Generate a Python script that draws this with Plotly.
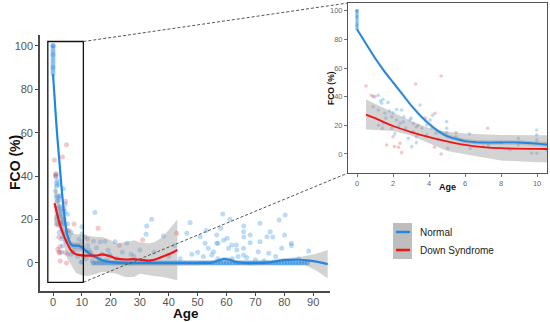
import plotly.graph_objects as go

# ---------------- data ----------------
normal_age = [0, 0, 0, 0, 0, 0, 0, 0, 0, 0, 0, 0, 0, 0, 0, 0, 0, 0,
              0.9, 1.0, 1.18, 1.3, 1.37, 1.45, 1.72, 1.18, 1.55, 2.0, 1.93, 2.2, 2.4, 2.57, 2.2, 2.48,
              1.93, 1.46, 2.94, 3.13, 3.13, 2.85, 3.3, 3.6, 3.5, 3.87, 4.06, 4.15, 4.39, 3.87, 3.3, 3.04,
              4.98, 4.98, 4.98, 5.04, 6.24, 6.28, 9.98, 9.98, 9.98, 9.98, 9.98, 9.7, 8.96, 8.96,
              1.6, 2.7, 3.4, 2.6, 4.5, 5.5, 7.0, 8.0, 6.5, 4.2, 1.2, 2.1, 2.3, 3.0, 1.8, 7.3, 8.5,
              10.5, 11, 11.5, 12, 12.5, 13, 13.5, 14, 14.5, 15, 16, 16.3, 17, 18, 18.5, 19, 19.5, 20,
              21.5, 22, 24, 25.5, 27, 28, 30, 32.4, 32.2, 34.1, 35, 38.2, 40, 42, 44, 46.3, 47.4, 48,
              50, 50.9, 52, 52.6, 53, 53.7, 54.9, 55.5, 56.6, 56.6, 57, 57.1, 58, 58.7, 59, 60.2, 60.7,
              61.2, 61.8, 62, 63.4, 63.6, 64, 65.9, 65.9, 65.9, 66, 66, 67, 68.2, 68.2, 70, 71, 71.6,
              71.6, 73, 74, 74.6, 75.1, 76, 77, 78.2, 79.1, 80.1, 80.3, 82.4, 82.5, 85, 88.4]
normal_fco = [100, 100, 100, 99, 98, 97, 96, 96, 95, 94, 93, 92, 91, 90, 90, 89, 88, 87,
              33, 40, 41, 37, 35.4, 38, 36, 30.7, 28.4, 28.8, 26, 23.7, 21.4, 22.5, 31, 30.7,
              17.9, 21.4, 23.7, 21.4, 15.6, 11, 12.1, 17.9, 34.2, 20.2, 23.7, 17.9, 14.4, 13.3, 7.9, 5.1,
              22.5, 17.9, 14.9, 4, 14, 4, 16.7, 13.3, 9.8, 7.5, 0.5, 0.5, 11, 6.3,
              25, 18, 20, 26, 10, 12, 5, 8, 8, 27, 20, 14, 19, 25, 30, 6, 3,
              3, 12, 2, 8, 6, 5, 1, 10, 23.2, 7, 2, 9.8, 4, 10, 1.5, 6, 4, 3,
              9.8, 2, 5, 9.1, 4, 3, 6, 17, 13.2, 20.1, 5, 12.4, 3, 8, 2, 13.7, 18.6, 4,
              5, 12.1, 3, 9.1, 15, 6.8, 3.7, 5.2, 9.1, 12.9, 2, 9.1, 16, 22.6, 10.5, 11.4, 6.8,
              20.1, 8.3, 2, 8.3, 6, 3, 14.4, 6.8, 3.7, 12, 17, 2.5, 12.9, 9.3, 1.5, 5.2, 18.3,
              9.8, 1, 12.1, 4.5, 14.4, 12, 3, 19.8, 6.8, 12.9, 22.1, 9.1, 8, 2, 5.5]

normal_zero_age = [14, 15, 16, 17, 18, 19, 20, 21, 22, 23, 24, 25, 26, 27, 28, 29, 30, 31, 32, 33,
                   34, 35, 36, 37, 38, 39, 40, 41, 42, 43, 44, 45, 46, 47, 48, 49, 50, 51, 52, 53,
                   54, 55, 56, 57, 58, 59, 60, 61, 62, 63, 64, 65, 66, 67, 68, 69, 70, 71, 72, 73,
                   74, 75, 76, 77, 78, 79, 80, 81, 82, 83, 84, 85, 86, 87, 88]
normal_zero_fco = [0, 0, 0, 0, 0, 0, 0, 0, 0, 0, 0, 0, 0, 0, 0, 0, 0, 0, 0, 0,
                   0, 0, 0, 0, 0, 0, 0, 0, 0, 0, 0, 0, 0, 0, 0, 0, 0, 0, 0, 0,
                   0, 0, 0, 0, 0, 0, 0, 0, 0, 0, 0, 0, 0, 0, 0, 0, 0, 0, 0, 0,
                   0, 0, 0, 0, 0, 0, 0, 0, 0, 0, 0, 0, 0, 0, 0]

ds_age = [0.5, 0.8, 0.9, 1.4, 1.65, 2.0, 2.07, 2.3, 2.39, 2.48, 3.26, 3.3, 3.8, 4.3, 4.33, 4.67,
          4.67, 5.5, 7.26, 12, 15.6, 23, 31, 42.8]
ds_fco = [47.4, 41, 40, 18, 6.3, 12, 5.1, 4.7, 7.5, 0.9, 48.8, 19, 25, 4.7, 28.4, 54.4,
          0, 15, 17.9, 11, 16, 8, 10.6, 13.7]

normal_fit_age = [0, 0.5, 1, 1.5, 2, 2.5, 3, 3.5, 4, 4.5, 5, 5.5, 6, 7, 8, 9, 10, 11, 12, 13, 15, 17,
                  20, 25, 30, 40, 50, 55, 57, 59, 61, 63, 65, 70, 75, 78, 80, 85, 88, 91, 95]
normal_fit = [87, 77, 67, 58, 50, 42, 34, 27, 21, 16, 12.5, 10.5, 9, 8, 8, 8, 7.2, 6, 5, 4, 2.5, 1.2,
              0.4, 0, 0, 0, 0, 0.2, 1, 1.8, 1.5, 0.5, 0.1, 0, 0.3, 1, 1.3, 1.5, 1.2, 0.6, -0.5]
normal_hi = [88.5, 78.5, 68.5, 59.5, 51.5, 43.5, 35.5, 28.5, 22.5, 17.5, 14, 12, 10.5, 9.5, 9.5, 9.5,
             8.7, 7.5, 6.5, 5.5, 3.5, 2.2, 1.4, 1, 1, 1, 1, 1.2, 2, 2.8, 2.5, 1.5, 1.1, 1, 1.3, 2,
             2.3, 2.6, 3.5, 4.2, 6]
normal_lo = [85.5, 75.5, 65.5, 56.5, 48.5, 40.5, 32.5, 25.5, 19.5, 14.5, 11, 9, 7.5, 6.5, 6.5, 6.5,
             5.7, 4.5, 3.5, 2.5, 1.5, 0.2, -0.6, -1, -1, -1, -1, -0.8, 0, 0.8, 0.5, -0.5, -0.9, -1,
             -0.7, 0, 0.3, 0.4, -1.5, -3.5, -7]

ds_fit_age = [0.5, 1, 2, 3, 4, 5, 6, 7, 8, 10, 12, 15, 17, 20, 22, 25, 28, 30, 33, 35, 38, 40, 43]
ds_fit = [27.5, 25, 19.5, 15.3, 11.8, 8.8, 6.3, 4.8, 4, 3.5, 3.4, 3.4, 4, 3, 2, 1.6, 1.8, 1.5, 1.1,
          1.5, 3, 4, 6]
ds_hi = [38, 35, 29, 23, 18, 15.5, 14.2, 13.6, 13.2, 13, 12.5, 12, 12, 10.5, 9, 9.5, 10.5, 9.5, 9,
         9.5, 12, 15, 20]
ds_lo = [17, 16.7, 16, 12.8, 7.5, 2, -0.5, -2.5, -4.6, -5.8, -6, -5, -4, -4.5, -5, -6.5, -6.5, -5,
         -5.5, -6, -6.5, -7, -8]

main_xticks = [0, 10, 20, 30, 40, 50, 60, 70, 80, 90]
main_yticks = [0, 20, 40, 60, 80, 100]
inset_xticks = [0, 2, 4, 6, 8, 10]
inset_yticks = [0, 20, 40, 60, 80, 100]
legend_labels = ["Normal", "Down Syndrome"]

# ---------------- layout geometry ----------------
W, H = 550, 322
FONT = "Liberation Sans, Arial, Helvetica, sans-serif"
BLUE = "#2088e3"
RED = "#f01515"
BAND = "rgba(150,150,150,0.42)"

main_xdom = [40 / W, 330 / W]
main_ydom = [(H - 291) / H, (H - 35) / H]
main_xr = [-4.5, 95.8]
main_yr = [-12.9, 105]
in_xdom = [348 / W, 547 / W]
in_ydom = [(H - 173) / H, (H - 3) / H]
in_xr = [-0.5, 10.55]
in_yr = [-13.3, 105.4]
zoom_box = dict(x0=-1.8, x1=10.5, y0=-8.9, y1=102)


def px(v, dom, rng):
    return dom[0] + (v - rng[0]) / (rng[1] - rng[0]) * (dom[1] - dom[0])


fig = go.Figure()

for xa, ya, msize in (("x", "y", 5), ("x2", "y2", 3.6)):
    fig.add_trace(go.Scatter(x=normal_age, y=normal_fco, mode="markers", xaxis=xa, yaxis=ya,
                             marker=dict(color=BLUE, size=msize, opacity=0.3, line_width=0),
                             showlegend=False, hoverinfo="skip"))
    fig.add_trace(go.Scatter(x=normal_zero_age, y=normal_zero_fco, mode="markers", xaxis=xa, yaxis=ya,
                             marker=dict(color=BLUE, size=msize, opacity=0.6, line_width=0),
                             showlegend=False, hoverinfo="skip"))
    fig.add_trace(go.Scatter(x=ds_age, y=ds_fco, mode="markers", xaxis=xa, yaxis=ya,
                             marker=dict(color="#e0303a", size=msize, opacity=0.28, line_width=0),
                             showlegend=False, hoverinfo="skip"))
    # confidence bands
    fig.add_trace(go.Scatter(x=normal_fit_age + normal_fit_age[::-1], y=normal_hi + normal_lo[::-1],
                             fill="toself", fillcolor=BAND, line=dict(width=0), mode="lines",
                             xaxis=xa, yaxis=ya, showlegend=False, hoverinfo="skip"))
    fig.add_trace(go.Scatter(x=ds_fit_age + ds_fit_age[::-1], y=ds_hi + ds_lo[::-1],
                             fill="toself", fillcolor=BAND, line=dict(width=0), mode="lines",
                             xaxis=xa, yaxis=ya, showlegend=False, hoverinfo="skip"))
    lw = 2.2 if xa == "x" else 1.8
    fig.add_trace(go.Scatter(x=normal_fit_age, y=normal_fit, mode="lines", xaxis=xa, yaxis=ya,
                             line=dict(color=BLUE, width=lw, shape="spline", smoothing=0.6),
                             showlegend=False, hoverinfo="skip"))
    fig.add_trace(go.Scatter(x=ds_fit_age, y=ds_fit, mode="lines", xaxis=xa, yaxis=ya,
                             line=dict(color=RED, width=lw, shape="spline", smoothing=0.6),
                             showlegend=False, hoverinfo="skip"))

axis_main = dict(showline=True, linecolor="#4a4a4a", linewidth=1.6, ticks="outside", ticklen=3,
                 tickcolor="#4a4a4a", tickwidth=1, showgrid=False, zeroline=False,
                 tickfont=dict(family=FONT, size=11, color="#555555"))
axis_in = dict(showline=True, mirror=True, linecolor="#555555", linewidth=1, ticks="outside",
               ticklen=3, tickcolor="#777777", tickwidth=0.8, showgrid=False, zeroline=False,
               tickfont=dict(family=FONT, size=7.5, color="#6a6a6a"))

fig.update_layout(
    width=W, height=H, margin=dict(l=0, r=0, t=0, b=0),
    paper_bgcolor="white", plot_bgcolor="white", showlegend=False,
    xaxis=dict(domain=main_xdom, range=main_xr, tickvals=main_xticks, anchor="y",
               ticklabelstandoff=-3, **axis_main),
    yaxis=dict(domain=main_ydom, range=main_yr, tickvals=main_yticks, anchor="x", **axis_main),
    xaxis2=dict(domain=in_xdom, range=in_xr, tickvals=inset_xticks, anchor="y2", **axis_in),
    yaxis2=dict(domain=in_ydom, range=in_yr, tickvals=inset_yticks, anchor="x2", **axis_in),
)

shapes = []
# zoom rectangle on the main panel
shapes.append(dict(type="rect", xref="x", yref="y", line=dict(color="#111111", width=1.3),
                   fillcolor="rgba(0,0,0,0)", layer="above", **zoom_box))
# connectors from zoom rectangle to inset
rx = px(zoom_box["x1"], main_xdom, main_xr)
ry_top = px(zoom_box["y1"], main_ydom, main_yr)
ry_bot = px(zoom_box["y0"], main_ydom, main_yr)
for y0, y1 in ((ry_top, in_ydom[1]), (ry_bot, in_ydom[0])):
    shapes.append(dict(type="line", xref="paper", yref="paper", x0=rx, y0=y0, x1=in_xdom[0], y1=y1,
                       line=dict(color="#555555", width=1, dash="3px,2px"), layer="above"))
# legend keys (ggplot-style grey key boxes with line)
key_x0, key_x1 = 393 / W, 412 / W
shapes.append(dict(type="rect", xref="paper", yref="paper", x0=key_x0, x1=key_x1,
                   y0=1 - 259 / H, y1=1 - 223 / H, fillcolor="#bebebe", line=dict(width=0)))
for col, yy in ((BLUE, 232), (RED, 250)):
    shapes.append(dict(type="line", xref="paper", yref="paper", x0=396 / W, x1=410 / W,
                       y0=1 - yy / H, y1=1 - yy / H, line=dict(color=col, width=2.5)))
fig.update_layout(shapes=shapes)

ann = [
    dict(text="<b>FCO (%)</b>", x=15 / W, y=1 - 163 / H, textangle=-90, font=dict(size=14)),
    dict(text="<b>Age</b>", x=186 / W, y=1 - 313.5 / H, font=dict(size=13.5)),
    dict(text="<b>FCO (%)</b>", x=331 / W, y=1 - 88 / H, textangle=-90, font=dict(size=8.5)),
    dict(text="<b>Age</b>", x=447 / W, y=1 - 187 / H, font=dict(size=9)),
]
for a in ann:
    a.update(xref="paper", yref="paper", showarrow=False, xanchor="center", yanchor="middle")
    a["font"].update(family=FONT, color="#111111")
for lab, yy in zip(legend_labels, (232, 250)):
    ann.append(dict(text=lab, x=418 / W, y=1 - yy / H, xref="paper", yref="paper", showarrow=False,
                    xanchor="left", yanchor="middle", font=dict(family=FONT, size=10, color="#222222")))
fig.update_layout(annotations=ann)

fig.write_html("out.html", config={"displayModeBar": False},
               post_script="document.body.style.margin='0';document.body.style.overflow='hidden';")
